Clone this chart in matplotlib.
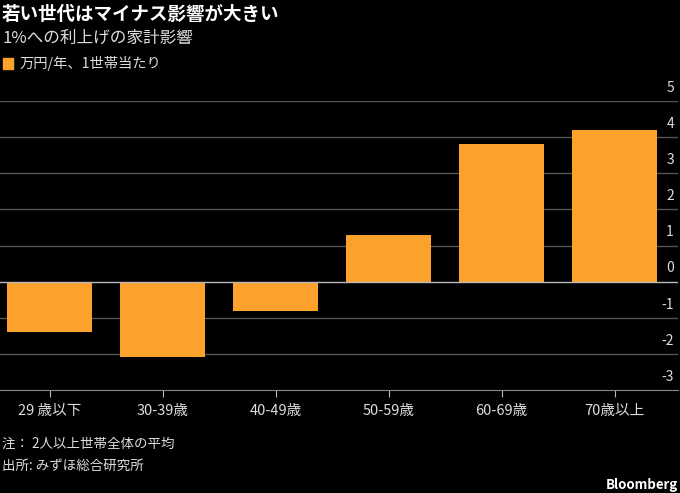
import matplotlib
matplotlib.use("Agg")
import matplotlib.pyplot as plt
import numpy as np

plt.rcParams['font.family'] = ['Noto Sans CJK JP', 'DejaVu Sans']

ages = ['29 歳以下', '30-39歳', '40-49歳', '50-59歳', '60-69歳', '70歳以上']
impact = [-1.4, -2.08, -0.8, 1.3, 3.8, 4.2]
y_ticks = [-3, -2, -1, 0, 1, 2, 3, 4, 5]

orange = '#fca12c'
bg = 'black'

fig = plt.figure(figsize=(6.8, 4.93), dpi=100, facecolor=bg)
ax = fig.add_axes([0.0, 0.209, 0.997, 0.586], facecolor=bg)

x = np.arange(len(ages))
ax.bar(x, impact, width=0.75, color=orange, zorder=3)

ax.set_xlim(-0.44, 5.56)
ax.set_ylim(-3, 5)

for t in y_ticks:
    if t == 0:
        ax.axhline(t, color='#bbbbbb', lw=1, zorder=4)
    elif t != -3:
        ax.axhline(t, color='#555555', lw=1, zorder=1)
    ax.text(0.994, t + 0.17, str(t), transform=ax.get_yaxis_transform(),
            ha='right', va='bottom', color='#dddddd', fontsize=10)

ax.set_yticks([])
ax.set_xticks(x)
ax.set_xticklabels(ages, color='#dddddd', fontsize=10.5)
ax.tick_params(axis='x', colors='#bbbbbb', length=5, pad=5, labelcolor='#dddddd')
for s in ['top', 'right', 'left']:
    ax.spines[s].set_visible(False)
ax.spines['bottom'].set_color('#888888')

fig.text(0.003, 0.971, '若い世代はマイナス影響が大きい', color='white',
         fontsize=13.3, fontweight='bold', va='center', ha='left')
fig.text(0.003, 0.922, '1%への利上げの家計影響', color='#dddddd',
         fontsize=12, va='center', ha='left')
fig.patches.append(plt.Rectangle((0.004, 0.861), 0.015, 0.021, color=orange,
                                 transform=fig.transFigure, figure=fig))
fig.text(0.029, 0.871, '万円/年、1世帯当たり', color='#dddddd',
         fontsize=10.3, va='center', ha='left')

fig.text(0.003, 0.099, '注： 2人以上世帯全体の平均', color='#dddddd',
         fontsize=9.7, va='center', ha='left')
fig.text(0.003, 0.056, '出所: みずほ総合研究所', color='#dddddd',
         fontsize=9.7, va='center', ha='left')
fig.text(0.997, 0.016, 'Bloomberg', color='white', fontsize=9.5,
         fontweight='bold', va='center', ha='right')

fig.savefig('out.png', dpi=100, facecolor=bg)
